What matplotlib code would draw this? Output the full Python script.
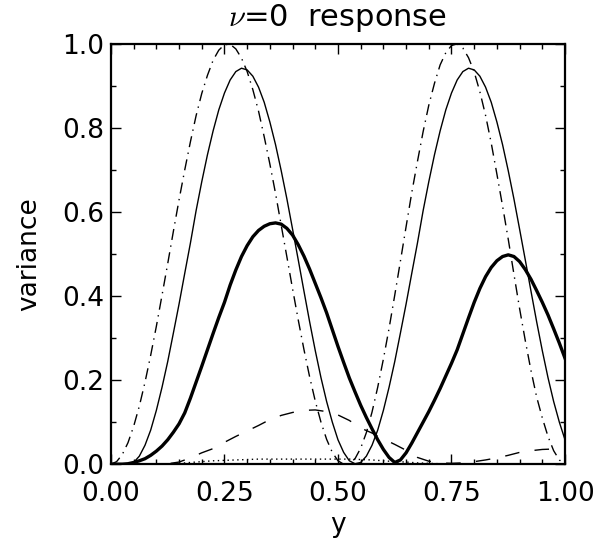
import matplotlib
matplotlib.use("Agg")
from matplotlib import pyplot as plt
from matplotlib.ticker import MultipleLocator, FormatStrFormatter

plt.rcParams["font.family"] = ["DejaVu Sans"]
plt.rcParams["mathtext.fontset"] = "cm"

# values
# fine grid (step 0.0125) for the three big curves
yfine = [i / 80 for i in range(81)]

dashdot = [0.000, 0.006, 0.023, 0.051, 0.090, 0.138, 0.195, 0.259, 0.328, 0.402,
           0.477, 0.554, 0.629, 0.700, 0.767, 0.829, 0.882, 0.925, 0.961, 0.985,
           0.998, 0.999, 0.988, 0.966, 0.934, 0.891, 0.840, 0.779, 0.714, 0.644,
           0.568, 0.493, 0.417, 0.343, 0.273, 0.208, 0.150, 0.100, 0.059, 0.028,
           0.008, 0.000, 0.001, 0.013, 0.038, 0.075, 0.124, 0.183, 0.250, 0.323,
           0.402, 0.483, 0.565, 0.646, 0.720, 0.791, 0.854, 0.906, 0.950, 0.979,
           0.996, 1.000, 0.990, 0.967, 0.933, 0.886, 0.830, 0.764, 0.690, 0.614,
           0.535, 0.452, 0.370, 0.294, 0.223, 0.160, 0.110, 0.066, 0.032, 0.010,
           0.000]

thin = [0.000, 0.000, 0.001, 0.001, 0.004, 0.019, 0.045, 0.081, 0.128, 0.183,
        0.244, 0.312, 0.381, 0.454, 0.526, 0.603, 0.672, 0.736, 0.793, 0.843,
        0.883, 0.914, 0.934, 0.942, 0.938, 0.923, 0.897, 0.861, 0.814, 0.760,
        0.698, 0.631, 0.559, 0.486, 0.412, 0.339, 0.270, 0.206, 0.149, 0.100,
        0.058, 0.028, 0.008, 0.001, 0.004, 0.019, 0.045, 0.081, 0.128, 0.183,
        0.244, 0.312, 0.381, 0.454, 0.526, 0.603, 0.672, 0.736, 0.793, 0.843,
        0.883, 0.914, 0.934, 0.942, 0.938, 0.923, 0.897, 0.861, 0.814, 0.760,
        0.698, 0.631, 0.559, 0.486, 0.412, 0.339, 0.270, 0.206, 0.149, 0.100,
        0.058]

thick = [0.000, 0.000, 0.000, 0.001, 0.004, 0.008, 0.013, 0.021, 0.031, 0.043,
         0.058, 0.076, 0.096, 0.122, 0.157, 0.195, 0.233, 0.272, 0.311, 0.349,
         0.385, 0.426, 0.462, 0.494, 0.520, 0.541, 0.556, 0.566, 0.572, 0.574,
         0.571, 0.561, 0.545, 0.522, 0.495, 0.464, 0.430, 0.396, 0.360, 0.320,
         0.280, 0.242, 0.205, 0.172, 0.140, 0.111, 0.084, 0.058, 0.035, 0.016,
         0.004, 0.010, 0.027, 0.050, 0.075, 0.100, 0.125, 0.152, 0.180, 0.210,
         0.240, 0.272, 0.310, 0.348, 0.385, 0.418, 0.446, 0.468, 0.484, 0.494,
         0.498, 0.494, 0.482, 0.463, 0.440, 0.413, 0.385, 0.355, 0.322, 0.288,
         0.252]

# coarse grid (step 0.025) for the two small curves
ycoarse = [i / 40 for i in range(41)]

dashed = [0.000, 0.000, 0.000, 0.000, 0.000, 0.001, 0.005, 0.015, 0.027, 0.037,
          0.052, 0.066, 0.079, 0.092, 0.106, 0.116, 0.123, 0.128, 0.129, 0.125,
          0.117, 0.104, 0.086, 0.074, 0.060, 0.047, 0.033, 0.016, 0.007, 0.003,
          0.002, 0.003, 0.006, 0.010, 0.015, 0.021, 0.028, 0.032, 0.035, 0.036,
          0.037]

dotted = [0.000, 0.000, 0.000, 0.000, 0.000, 0.000, 0.002, 0.004, 0.006, 0.008,
          0.009, 0.010, 0.011, 0.012, 0.012, 0.012, 0.012, 0.012, 0.012, 0.012,
          0.012, 0.012, 0.011, 0.010, 0.008, 0.006, 0.005, 0.003, 0.002, 0.001,
          0.000, 0.000, 0.000, 0.000, 0.000, 0.000, 0.000, 0.000, 0.000, 0.000,
          0.000]

fig = plt.figure(figsize=(6.03, 5.48), dpi=100)
ax = fig.add_axes([0.184, 0.153, 0.753, 0.767])

ax.plot(yfine, dashdot, color="k", lw=1.0, dashes=(8, 4, 1, 4))
ax.plot(yfine, thin, color="k", lw=1.0)
ax.plot(yfine, thick, color="k", lw=2.4)
ax.plot(ycoarse, dashed, color="k", lw=1.0, dashes=(10.5, 11))
ax.plot(ycoarse, dotted, color="k", lw=1.0, dashes=(1, 2.5))

ax.set_xlim(0, 1)
ax.set_ylim(0, 1)
ax.xaxis.set_major_locator(MultipleLocator(0.25))
ax.xaxis.set_minor_locator(MultipleLocator(0.05))
ax.yaxis.set_major_locator(MultipleLocator(0.2))
ax.yaxis.set_minor_locator(MultipleLocator(0.1))
ax.xaxis.set_major_formatter(FormatStrFormatter("%.2f"))
ax.yaxis.set_major_formatter(FormatStrFormatter("%.1f"))

ax.tick_params(which="both", direction="in", top=True, right=True, width=1.0)
ax.tick_params(which="major", length=7.5)
ax.tick_params(which="minor", length=3.8)
ax.tick_params(axis="x", labelsize=19, pad=12)
ax.tick_params(axis="y", labelsize=19, pad=5)
for s in ax.spines.values():
    s.set_linewidth(1.6)

ax.set_title(r"$\nu$=0  response", fontsize=22, pad=13)
ax.set_xlabel("y", fontsize=19, labelpad=4)
ax.set_ylabel("variance", fontsize=19, labelpad=14)

fig.savefig("out.png", dpi=100)
